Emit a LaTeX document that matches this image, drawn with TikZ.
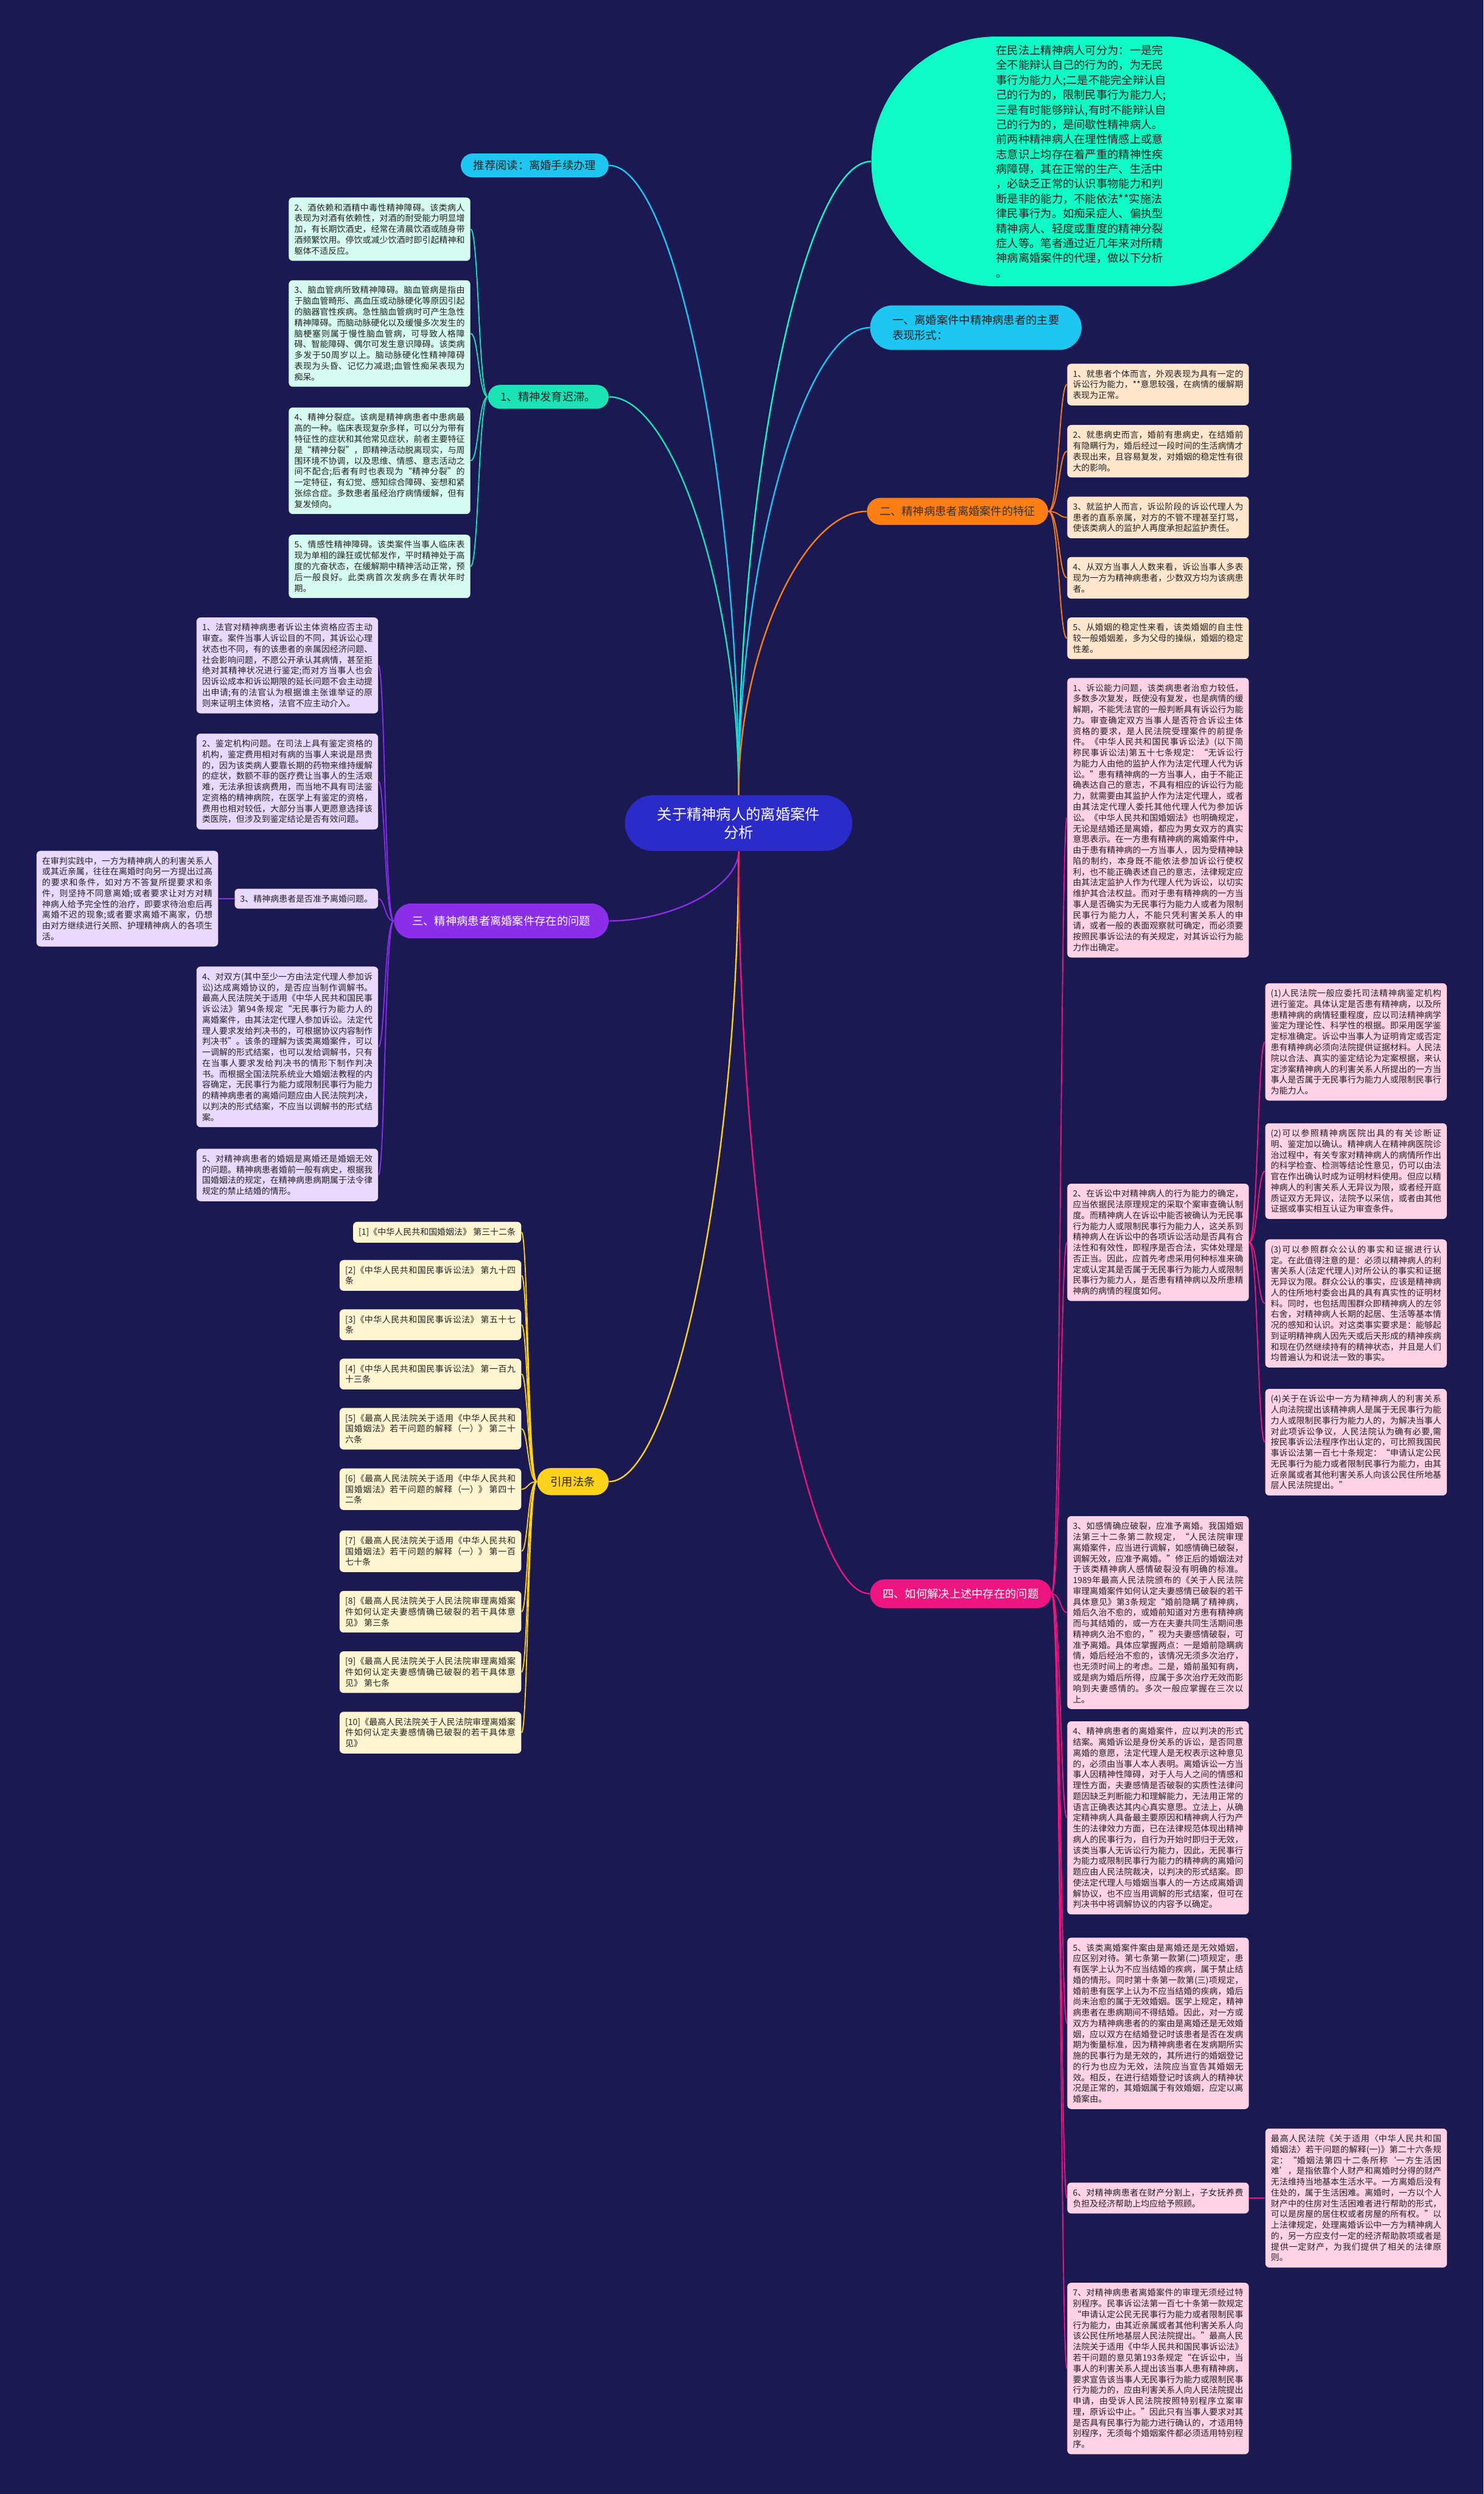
\documentclass[tikz,border=0pt]{standalone}
\usepackage{fontspec}
\setmainfont{Noto Sans CJK SC}
\usetikzlibrary{calc}
\XeTeXlinebreaklocale "zh"
\XeTeXlinebreakskip=0pt plus 1pt
\pgfdeclarelayer{back}
\pgfdeclarelayer{lines}
\pgfsetlayers{back,lines,main}
\definecolor{bgc}{RGB}{27,25,82}
\definecolor{cyanc}{HTML}{1DC7F2}
\definecolor{mintc}{HTML}{1BE3B6}
\definecolor{elc}{HTML}{10FAC6}
\definecolor{orc}{HTML}{FF7F14}
\definecolor{puc}{HTML}{8B2EEA}
\definecolor{yec}{HTML}{FFD21C}
\definecolor{pic}{HTML}{EE1580}
\definecolor{blc}{HTML}{2B2BC9}
\definecolor{mintl}{HTML}{D6FBF1}
\definecolor{orl}{HTML}{FFE6CD}
\definecolor{pul}{HTML}{E9D8FF}
\definecolor{yel}{HTML}{FFF5D0}
\definecolor{pil}{HTML}{FFD2E6}
\definecolor{txt}{HTML}{222222}
\newcommand\mmtop[3]{\draw[#1] (#2) .. controls ($(#2)!0.5!(#2 |- #3)$) and ($(#2 |- #3)!0.5!(#3)$) .. (#3);}
\newcommand\mmkid[4]{\draw[#1] (#2) .. controls (#4 |- #2) and (#4 |- #3) .. (#3);}
\begin{document}
\begin{tikzpicture}[x=1pt,y=-1pt,
 box/.style={rounded corners=2.5pt, inner xsep=3.5pt, inner ysep=3.8pt, text width=107.2pt, align=justify, font=\fontsize{5.35}{6.8}\selectfont, text=txt},
 boxn/.style={rounded corners=2.5pt, inner xsep=3.5pt, inner ysep=3.8pt, font=\fontsize{5.35}{6.8}\selectfont, text=txt},
 topic/.style={inner xsep=8pt, inner ysep=2pt, font=\fontsize{7}{9.33}\selectfont, text=txt},
 mline/.style={line width=0.9pt},
 sline/.style={line width=0.7pt}]
\begin{pgfonlayer}{back}
\fill[bgc] (0,0) rectangle (933,1568);
\end{pgfonlayer}
\useasboundingbox (0,0) rectangle (933,1568);

% centre
\node[fill=blc, text=white, rounded corners=17.5pt, minimum width=143pt, minimum height=35pt, align=center, font=\fontsize{9.3}{11.5}\selectfont] (c) at (464.5,517.5) {关于精神病人的离婚案件\\分析};

% main topics
\node[topic, fill=cyanc, anchor=east, minimum height=15pt, rounded corners=7.5pt] (tj) at (383,104) {推荐阅读：离婚手续办理};
\node[topic, fill=mintc, anchor=east, minimum height=15pt, rounded corners=7.5pt] (f1) at (383,249.5) {1、精神发育迟滞。};
\node[fill=elc, rounded corners=78.5pt, minimum width=264pt, minimum height=157pt, text=txt, font=\fontsize{7}{9.33}\selectfont, align=left] (el) at (680,101.5) {在民法上精神病人可分为：一是完\\全不能辩认自己的行为的，为无民\\事行为能力人;二是不能完全辩认自\\己的行为的，限制民事行为能力人;\\三是有时能够辩认,有时不能辩认自\\己的行为的，是间歇性精神病人。\\前两种精神病人在理性情感上或意\\志意识上均存在着严重的精神性疾\\病障碍，其在正常的生产、生活中\\，必缺乏正常的认识事物能力和判\\断是非的能力，不能依法**实施法\\律民事行为。如痴呆症人、偏执型\\精神病人、轻度或重度的精神分裂\\症人等。笔者通过近几年来对所精\\神病离婚案件的代理，做以下分析\\。};
\node[topic, fill=cyanc, anchor=west, minimum height=28pt, minimum width=133pt, rounded corners=14pt, align=left, inner xsep=12pt] (y1) at (547,206) {一、离婚案件中精神病患者的主要\\表现形式：};
\node[topic, fill=orc, text=black!80, anchor=west, minimum height=17pt, rounded corners=8.5pt] (e2) at (545,321.5) {二、精神病患者离婚案件的特征};
\node[topic, fill=puc, text=white, anchor=east, minimum height=22pt, rounded corners=11pt, inner xsep=11.5pt] (s3) at (383,579) {三、精神病患者离婚案件存在的问题};
\node[topic, fill=yec, anchor=east, minimum height=17pt, rounded corners=8.5pt, inner xsep=8.5pt] (yl) at (383,931.5) {引用法条};
\node[topic, fill=pic, text=white, anchor=west, minimum height=18pt, rounded corners=9pt] (s4) at (547,1002) {四、如何解决上述中存在的问题};

% 1 children
\node[box, fill=mintl, anchor=north east] (m2) at (296,124) {2、酒依赖和酒精中毒性精神障碍。该类病人表现为对酒有依赖性，对酒的耐受能力明显增加，有长期饮酒史，经常在清晨饮酒或随身带酒频繁饮用。停饮或减少饮酒时即引起精神和躯体不适反应。};
\node[box, fill=mintl, anchor=north east] (m3) at (296,176) {3、脑血管病所致精神障碍。脑血管病是指由于脑血管畸形、高血压或动脉硬化等原因引起的脑器官性疾病。急性脑血管病时可产生急性精神障碍。而脑动脉硬化以及缓慢多次发生的脑梗塞则属于慢性脑血管病，可导致人格障碍、智能障碍、偶尔可发生意识障碍。该类病多发于50周岁以上。脑动脉硬化性精神障碍表现为头昏、记忆力减退;血管性痴呆表现为痴呆。};
\node[box, fill=mintl, anchor=north east] (m4) at (296,256) {4、精神分裂症。该病是精神病患者中患病最高的一种。临床表现复杂多样，可以分为带有特征性的症状和其他常见症状，前者主要特征是“精神分裂”，即精神活动脱离现实，与周围环境不协调，以及思维、情感、意志活动之间不配合;后者有时也表现为“精神分裂”的一定特征，有幻觉、感知综合障碍、妄想和紧张综合症。多数患者虽经治疗病情缓解，但有复发倾向。};
\node[box, fill=mintl, anchor=north east] (m5) at (296,336) {5、情感性精神障碍。该类案件当事人临床表现为单相的躁狂或忧郁发作，平时精神处于高度的亢奋状态，在缓解期中精神活动正常，预后一般良好。此类病首次发病多在青状年时期。};

% 2 children
\node[box, fill=orl, anchor=north west] (r1) at (671,228.5) {1、就患者个体而言，外观表现为具有一定的诉讼行为能力，**意思较强，在病情的缓解期表现为正常。};
\node[box, fill=orl, anchor=north west] (r2) at (671,267) {2、就患病史而言，婚前有患病史，在结婚前有隐瞒行为，婚后经过一段时间的生活病情才表现出来，且容易复发，对婚姻的稳定性有很大的影响。};
\node[box, fill=orl, anchor=north west] (r3) at (671,312) {3、就监护人而言，诉讼阶段的诉讼代理人为患者的直系亲属，对方的不管不理甚至打骂，使该类病人的监护人再度承担起监护责任。};
\node[box, fill=orl, anchor=north west] (r4) at (671,350) {4、从双方当事人人数来看，诉讼当事人多表现为一方为精神病患者，少数双方均为该病患者。};
\node[box, fill=orl, anchor=north west] (r5) at (671,388) {5、从婚姻的稳定性来看，该类婚姻的自主性较一般婚姻差，多为父母的操纵，婚姻的稳定性差。};

% 3 children
\node[box, fill=pul, anchor=north east] (p1) at (238,388) {1、法官对精神病患者诉讼主体资格应否主动审查。案件当事人诉讼目的不同，其诉讼心理状态也不同，有的该患者的亲属因经济问题、社会影响问题，不愿公开承认其病情，甚至拒绝对其精神状况进行鉴定;而对方当事人也会因诉讼成本和诉讼期限的延长问题不会主动提出申请;有的法官认为根据谁主张谁举证的原则来证明主体资格，法官不应主动介入。};
\node[box, fill=pul, anchor=north east] (p2) at (238,461) {2、鉴定机构问题。在司法上具有鉴定资格的机构，鉴定费用相对有病的当事人来说是昂贵的，因为该类病人要靠长期的药物来维持缓解的症状，数额不菲的医疗费让当事人的生活艰难，无法承担该病费用，而当地不具有司法鉴定资格的精神病院，在医学上有鉴定的资格，费用也相对较低，大部分当事人更愿意选择该类医院，但涉及到鉴定结论是否有效问题。};
\node[boxn, fill=pul, anchor=east] (p3) at (238,565) {3、精神病患者是否准予离婚问题。};
\node[box, fill=pul, anchor=east] (p3a) at ($(p3.west)+(-10,0)$) {在审判实践中，一方为精神病人的利害关系人或其近亲属，往往在离婚时向另一方提出过高的要求和条件，如对方不答复所提要求和条件，则坚持不同意离婚;或者要求让对方对精神病人给予完全性的治疗，即要求待治愈后再离婚不迟的现象;或者要求离婚不离家，仍想由对方继续进行关照、护理精神病人的各项生活。};
\node[box, fill=pul, anchor=north east] (p4) at (238,607.5) {4、对双方(其中至少一方由法定代理人参加诉讼)达成离婚协议的，是否应当制作调解书。最高人民法院关于适用《中华人民共和国民事诉讼法》第94条规定“无民事行为能力人的离婚案件，由其法定代理人参加诉讼。法定代理人要求发给判决书的，可根据协议内容制作判决书”。该条的理解为该类离婚案件，可以一调解的形式结案，也可以发给调解书，只有在当事人要求发给判决书的情形下制作判决书。而根据全国法院系统业大婚姻法教程的内容确定，无民事行为能力或限制民事行为能力的精神病患者的离婚问题应由人民法院判决，以判决的形式结案，不应当以调解书的形式结案。};
\node[box, fill=pul, anchor=north east] (p5) at (238,722) {5、对精神病患者的婚姻是离婚还是婚姻无效的问题。精神病患者婚前一般有病史，根据我国婚姻法的规定，在精神病患病期属于法令律规定的禁止结婚的情形。};

% references
\node[boxn, fill=yel, anchor=north east] (q1) at (328,768) {[1]《中华人民共和国婚姻法》 第三十二条};
\node[box, fill=yel, anchor=north east] (q2) at (328,792) {[2]《中华人民共和国民事诉讼法》 第九十四条};
\node[box, fill=yel, anchor=north east] (q3) at (328,823) {[3]《中华人民共和国民事诉讼法》 第五十七条};
\node[box, fill=yel, anchor=north east] (q4) at (328,854) {[4]《中华人民共和国民事诉讼法》 第一百九十三条};
\node[box, fill=yel, anchor=north east] (q5) at (328,885) {[5]《最高人民法院关于适用《中华人民共和国婚姻法》若干问题的解释（一）》 第二十六条};
\node[box, fill=yel, anchor=north east] (q6) at (328,923) {[6]《最高人民法院关于适用《中华人民共和国婚姻法》若干问题的解释（一）》 第四十二条};
\node[box, fill=yel, anchor=north east] (q7) at (328,962) {[7]《最高人民法院关于适用《中华人民共和国婚姻法》若干问题的解释（一）》 第一百七十条};
\node[box, fill=yel, anchor=north east] (q8) at (328,1000) {[8]《最高人民法院关于人民法院审理离婚案件如何认定夫妻感情确已破裂的若干具体意见》 第三条};
\node[box, fill=yel, anchor=north east] (q9) at (328,1038) {[9]《最高人民法院关于人民法院审理离婚案件如何认定夫妻感情确已破裂的若干具体意见》 第七条};
\node[box, fill=yel, anchor=north east] (q10) at (328,1076) {[10]《最高人民法院关于人民法院审理离婚案件如何认定夫妻感情确已破裂的若干具体意见》};

% 4 children
\node[box, fill=pil, anchor=north west] (t1) at (671,426) {1、诉讼能力问题，该类病患者治愈力较低，多数多次复发，既使没有复发，也是病情的缓解期，不能凭法官的一般判断具有诉讼行为能力。审查确定双方当事人是否符合诉讼主体资格的要求，是人民法院受理案件的前提条件。《中华人民共和国民事诉讼法》(以下简称民事诉讼法)第五十七条规定：“无诉讼行为能力人由他的监护人作为法定代理人代为诉讼。”患有精神病的一方当事人，由于不能正确表达自己的意志，不具有相应的诉讼行为能力，就需要由其监护人作为法定代理人，或者由其法定代理人委托其他代理人代为参加诉讼。《中华人民共和国婚姻法》也明确规定，无论是结婚还是离婚，都应为男女双方的真实意思表示。在一方患有精神病的离婚案件中，由于患有精神病的一方当事人，因为受精神缺陷的制约，本身既不能依法参加诉讼行使权利，也不能正确表述自己的意志，法律规定应由其法定监护人作为代理人代为诉讼，以切实维护其合法权益。而对于患有精神病的一方当事人是否确实为无民事行为能力人或者为限制民事行为能力人，不能只凭利害关系人的申请，或者一般的表面观察就可确定，而必须要按照民事诉讼法的有关规定，对其诉讼行为能力作出确定。};
\node[box, fill=pil, anchor=north west] (t2) at (671,744) {2、在诉讼中对精神病人的行为能力的确定，应当依据民法原理规定的采取个案审查确认制度。而精神病人在诉讼中能否被确认为无民事行为能力人或限制民事行为能力人，这关系到精神病人在诉讼中的各项诉讼活动是否具有合法性和有效性，即程序是否合法，实体处理是否正当。因此，应首先考虑采用何种标准来确定或认定其是否属于无民事行为能力人或限制民事行为能力人，是否患有精神病以及所患精神病的病情的程度如何。};
\node[box, fill=pil, anchor=north west] (t3) at (671,953) {3、如感情确应破裂，应准予离婚。我国婚姻法第三十二条第二款规定，“人民法院审理离婚案件，应当进行调解，如感情确已破裂，调解无效，应准予离婚。”修正后的婚姻法对于该类精神病人感情破裂没有明确的标准。1989年最高人民法院颁布的《关于人民法院审理离婚案件如何认定夫妻感情已破裂的若干具体意见》第3条规定“婚前隐瞒了精神病，婚后久治不愈的，或婚前知道对方患有精神病而与其结婚的，或一方在夫妻共同生活期间患精神病久治不愈的，”视为夫妻感情破裂，可准予离婚。具体应掌握两点：一是婚前隐瞒病情，婚后经治不愈的，该情况无须多次治疗，也无须时间上的考虑。二是，婚前虽知有病，或是病为婚后所得，应属于多次治疗无效而影响到夫妻感情的。多次一般应掌握在三次以上。};
\node[box, fill=pil, anchor=north west] (t4) at (671,1082) {4、精神病患者的离婚案件，应以判决的形式结案。离婚诉讼是身份关系的诉讼，是否同意离婚的意愿，法定代理人是无权表示这种意见的，必须由当事人本人表明。离婚诉讼一方当事人因精神性障碍，对于人与人之间的情感和理性方面，夫妻感情是否破裂的实质性法律问题因缺乏判断能力和理解能力，无法用正常的语言正确表达其内心真实意思。立法上，从确定精神病人具备最主要原因和精神病人行为产生的法律效力方面，已在法律规范体现出精神病人的民事行为，自行为开始时即归于无效，该类当事人无诉讼行为能力，因此，无民事行为能力或限制民事行为能力的精神病的离婚问题应由人民法院裁决，以判决的形式结案。即使法定代理人与婚姻当事人的一方达成离婚调解协议，也不应当用调解的形式结案，但可在判决书中将调解协议的内容予以确定。};
\node[box, fill=pil, anchor=north west] (t5) at (671,1218) {5、该类离婚案件案由是离婚还是无效婚姻，应区别对待。第七条第一款第(二)项规定，患有医学上认为不应当结婚的疾病，属于禁止结婚的情形。同时第十条第一款第(三)项规定，婚前患有医学上认为不应当结婚的疾病，婚后尚未治愈的属于无效婚姻。医学上规定，精神病患者在患病期间不得结婚。因此，对一方或双方为精神病患者的的案由是离婚还是无效婚姻，应以双方在结婚登记时该患者是否在发病期为衡量标准，因为精神病患者在发病期所实施的民事行为是无效的，其所进行的婚姻登记的行为也应为无效，法院应当宣告其婚姻无效。相反，在进行结婚登记时该病人的精神状况是正常的，其婚姻属于有效婚姻，应定以离婚案由。};
\node[box, fill=pil, anchor=north west] (t6) at (671,1372) {6、对精神病患者在财产分割上，子女抚养费负担及经济帮助上均应给予照顾。};
\node[box, fill=pil, anchor=north west] (t7) at (671,1435) {7、对精神病患者离婚案件的审理无须经过特别程序。民事诉讼法第一百七十条第一款规定“申请认定公民无民事行为能力或者限制民事行为能力，由其近亲属或者其他利害关系人向该公民住所地基层人民法院提出。”最高人民法院关于适用《中华人民共和国民事诉讼法》若干问题的意见第193条规定“在诉讼中，当事人的利害关系人提出该当事人患有精神病，要求宣告该当事人无民事行为能力或限制民事行为能力的，应由利害关系人向人民法院提出申请，由受诉人民法院按照特别程序立案审理，原诉讼中止。”因此只有当事人要求对其是否具有民事行为能力进行确认的，才适用特别程序，无须每个婚姻案件都必须适用特别程序。};

% children of 4.2
\node[box, fill=pil, anchor=north west] (u1) at (795.5,618) {(1)人民法院一般应委托司法精神病鉴定机构进行鉴定。具体认定是否患有精神病，以及所患精神病的病情轻重程度，应以司法精神病学鉴定为理论性、科学性的根据。即采用医学鉴定标准确定。诉讼中当事人为证明肯定或否定患有精神病必须向法院提供证据材料。人民法院以合法、真实的鉴定结论为定案根据，来认定涉案精神病人的利害关系人所提出的一方当事人是否属于无民事行为能力人或限制民事行为能力人。};
\node[box, fill=pil, anchor=north west] (u2) at (795.5,706) {(2)可以参照精神病医院出具的有关诊断证明、鉴定加以确认。精神病人在精神病医院诊治过程中，有关专家对精神病人的病情所作出的科学检查、检测等结论性意见，仍可以由法官在作出确认时成为证明材料使用。但应以精神病人的利害关系人无异议为限，或者经开庭质证双方无异议，法院予以采信，或者由其他证据或事实相互认证为审查条件。};
\node[box, fill=pil, anchor=north west] (u3) at (795.5,779) {(3)可以参照群众公认的事实和证据进行认定。在此值得注意的是：必须以精神病人的利害关系人(法定代理人)对所公认的事实和证据无异议为限。群众公认的事实，应该是精神病人的住所地村委会出具的具有真实性的证明材料。同时，也包括周围群众即精神病人的左邻右舍，对精神病人长期的起居、生活等基本情况的感知和认识。对这类事实要求是：能够起到证明精神病人因先天或后天形成的精神疾病和现在仍然继续持有的精神状态，并且是人们均普遍认为和说法一致的事实。};
\node[box, fill=pil, anchor=north west] (u4) at (795.5,873) {(4)关于在诉讼中一方为精神病人的利害关系人向法院提出该精神病人是属于无民事行为能力人或限制民事行为能力人的，为解决当事人对此项诉讼争议，人民法院认为确有必要,需按民事诉讼法程序作出认定的，可比照我国民事诉讼法第一百七十条规定：“申请认定公民无民事行为能力或者限制民事行为能力，由其近亲属或者其他利害关系人向该公民住所地基层人民法院提出。”};
\node[box, fill=pil, anchor=west] (v1) at ($(t6.east)+(10,0)$) {最高人民法院《关于适用〈中华人民共和国婚姻法〉若干问题的解释(一)》第二十六条规定：“婚姻法第四十二条所称‘一方生活困难’，是指依靠个人财产和离婚时分得的财产无法维持当地基本生活水平。一方离婚后没有住处的，属于生活困难。离婚时，一方以个人财产中的住房对生活困难者进行帮助的形式，可以是房屋的居住权或者房屋的所有权。”以上法律规定，处理离婚诉讼中一方为精神病人的，另一方应支付一定的经济帮助款项或者是提供一定财产，为我们提供了相关的法律原则。};

% trunk columns
\coordinate (trf) at (301,0);
\coordinate (tre) at (666,0);
\coordinate (trs) at (242,0);
\coordinate (trq) at (332,0);
\coordinate (trp) at (667,0);
\coordinate (tru) at (791,0);

\begin{pgfonlayer}{lines}
\mmtop{mline,cyanc}{c.north}{tj.east}
\mmtop{mline,mintc}{c.north}{f1.east}
\mmtop{mline,elc}{c.north}{el.west}
\mmtop{mline,cyanc}{c.north}{y1.west}
\mmtop{mline,orc}{c.north}{e2.west}
\mmtop{mline,puc}{c.south}{s3.east}
\mmtop{mline,yec}{c.south}{yl.east}
\mmtop{mline,pic}{c.south}{s4.west}
\foreach \k in {m2,m3,m4,m5} {\mmkid{sline,mintc}{f1.west}{\k.east}{trf}}
\foreach \k in {r1,r2,r3,r4,r5} {\mmkid{sline,orc}{e2.east}{\k.west}{tre}}
\foreach \k in {p1,p2,p3,p4,p5} {\mmkid{sline,puc}{s3.west}{\k.east}{trs}}
\foreach \k in {q1,q2,q3,q4,q5,q6,q7,q8,q9,q10} {\mmkid{sline,yec}{yl.west}{\k.east}{trq}}
\foreach \k in {t1,t2,t3,t4,t5,t6,t7} {\mmkid{sline,pic}{s4.east}{\k.west}{trp}}
\foreach \k in {u1,u2,u3,u4} {\mmkid{sline,pic}{t2.east}{\k.west}{tru}}
\draw[sline,puc] (p3.west) -- (p3a.east);
\draw[sline,pic] (t6.east) -- (v1.west);
\end{pgfonlayer}
\end{tikzpicture}
\end{document}
